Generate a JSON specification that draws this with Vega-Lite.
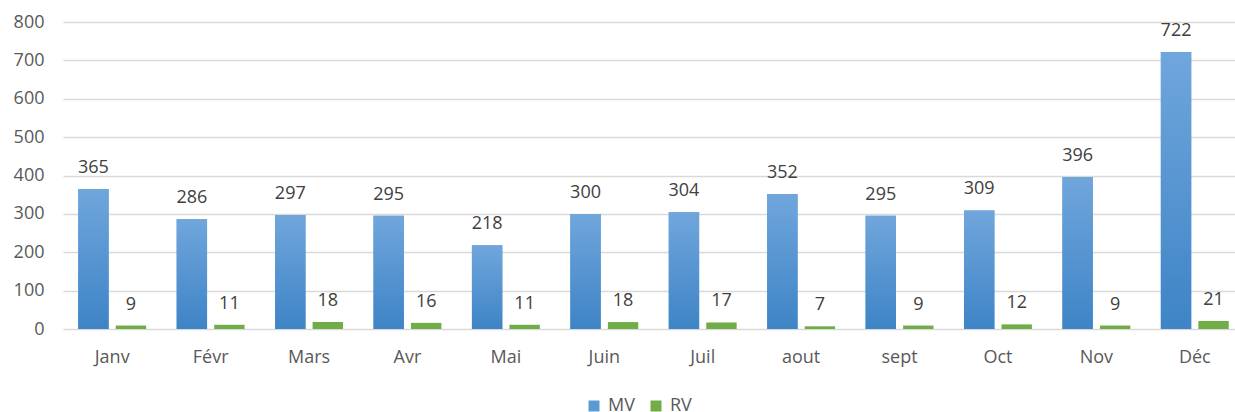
{
  "$schema": "https://vega.github.io/schema/vega-lite/v6.json",
  "width": 1172,
  "height": 307,
  "autosize": {"type": "none"},
  "padding": {"left": 63, "top": 22, "right": 0, "bottom": 83},
  "background": "white",
  "config": {
    "view": {"stroke": null},
    "font": "Open Sans",
    "axis": {"labelFont": "Open Sans", "labelFontSize": 18, "labelColor": "#595959"},
    "legend": {"labelFont": "Open Sans", "labelFontSize": 18, "labelColor": "#595959"}
  },
  "data": {
    "values": [
      {"month": "Janv", "series": "MV", "value": 365},
      {"month": "Janv", "series": "RV", "value": 9},
      {"month": "Févr", "series": "MV", "value": 286},
      {"month": "Févr", "series": "RV", "value": 11},
      {"month": "Mars", "series": "MV", "value": 297},
      {"month": "Mars", "series": "RV", "value": 18},
      {"month": "Avr", "series": "MV", "value": 295},
      {"month": "Avr", "series": "RV", "value": 16},
      {"month": "Mai", "series": "MV", "value": 218},
      {"month": "Mai", "series": "RV", "value": 11},
      {"month": "Juin", "series": "MV", "value": 300},
      {"month": "Juin", "series": "RV", "value": 18},
      {"month": "Juil", "series": "MV", "value": 304},
      {"month": "Juil", "series": "RV", "value": 17},
      {"month": "aout", "series": "MV", "value": 352},
      {"month": "aout", "series": "RV", "value": 7},
      {"month": "sept", "series": "MV", "value": 295},
      {"month": "sept", "series": "RV", "value": 9},
      {"month": "Oct", "series": "MV", "value": 309},
      {"month": "Oct", "series": "RV", "value": 12},
      {"month": "Nov", "series": "MV", "value": 396},
      {"month": "Nov", "series": "RV", "value": 9},
      {"month": "Déc", "series": "MV", "value": 722},
      {"month": "Déc", "series": "RV", "value": 21}
    ]
  },
  "encoding": {
    "x": {
      "field": "month",
      "type": "nominal",
      "sort": null,
      "scale": {"range": [0, 1181], "paddingInner": 0.31, "paddingOuter": 0.155},
      "axis": {"title": null, "labelAngle": 0, "domain": false, "ticks": false, "labelPadding": 19, "grid": false}
    },
    "xOffset": {
      "field": "series",
      "type": "nominal",
      "scale": {"paddingInner": 0.19, "paddingOuter": 0}
    },
    "y": {
      "field": "value",
      "type": "quantitative",
      "scale": {"domain": [0, 800], "nice": false},
      "axis": {
        "title": null,
        "values": [0, 100, 200, 300, 400, 500, 600, 700, 800],
        "domain": false,
        "ticks": false,
        "labelPadding": 19,
        "gridColor": "#d9d9d9",
        "gridWidth": 1.5
      }
    }
  },
  "layer": [
    {
      "mark": {"type": "bar"},
      "encoding": {
        "color": {
          "field": "series",
          "type": "nominal",
          "scale": {"domain": ["MV", "RV"], "range": ["#5b9bd5", "#70ad47"]},
          "legend": {
            "title": null,
            "orient": "none",
            "direction": "horizontal",
            "legendX": 522,
            "legendY": 375,
            "symbolType": "square",
            "symbolSize": 121,
            "symbolStrokeWidth": 0,
            "labelOffset": 5,
            "columnPadding": 12
          }
        }
      }
    },
    {
      "transform": [{"filter": "datum.series === 'MV'"}],
      "mark": {
        "type": "bar",
        "fill": {
          "gradient": "linear",
          "x1": 0, "y1": 0, "x2": 0, "y2": 1,
          "stops": [
            {"offset": 0, "color": "#70a6dc"},
            {"offset": 1, "color": "#3e84c6"}
          ]
        }
      },
      "encoding": {}
    },
    {
      "mark": {"type": "text", "baseline": "alphabetic", "dy": -16, "fontSize": 18, "color": "#404040", "font": "Open Sans"},
      "encoding": {
        "text": {"field": "value", "type": "quantitative"}
      }
    }
  ]
}
